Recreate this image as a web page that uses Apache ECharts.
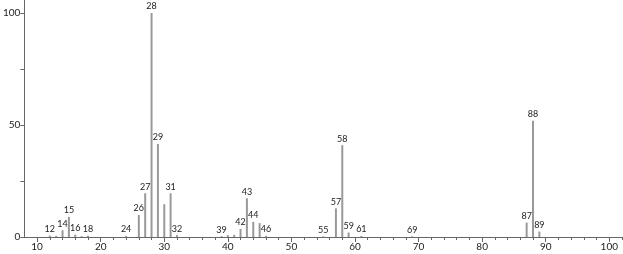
<!DOCTYPE html>
<html><head><meta charset="utf-8">
<script src="https://cdn.jsdelivr.net/npm/echarts@6/dist/echarts.min.js"></script>
<style>html,body{margin:0;padding:0;background:#fff}#c{width:623px;height:254px}</style>
</head><body><div id="c"></div>
<script>
const mz        = [12, 13, 14, 15, 16, 17, 18, 24, 26, 27, 28, 29, 30, 31, 32, 39, 40, 41, 42, 43, 44, 45, 46, 55, 57, 58, 59, 61, 69, 87, 88, 89];
const intensity = [0.6,0.5,3, 9, 1, 0.4,0.6,0.5,9.8,19.5,100,41.5,14.6,19.5,0.8,0.4,0.8,1, 3.6,17.3,6.8,6.2,0.5,0.3,12.8,41,2, 0.5,0.3,6.4,51.9,2.4];
const labeled   = [12, 14, 15, 16, 18, 24, 26, 27, 28, 29, 31, 32, 39, 42, 43, 44, 46, 55, 57, 58, 59, 61, 69, 87, 88, 89];
const xMajorTicks = [10, 20, 30, 40, 50, 60, 70, 80, 90, 100];
const xMinorTicks = [12,14,16,18,22,24,26,28,32,34,36,38,42,44,46,48,52,54,56,58,62,64,66,68,72,74,76,78,82,84,86,88,92,94,96,98,102];
const yLabels = [0, 50, 100];
const yTicks = [0, 25, 50, 75, 100];

const font = 'Lato, "DejaVu Sans", sans-serif';
const data = mz.map((m, i) => ({
  value: [m, intensity[i]],
  label: { show: labeled.includes(m) }
}));

const chart = echarts.init(document.getElementById('c'));
chart.setOption({
  animation: false,
  grid: { left: 24, right: 1, top: 0, bottom: 17 },
  xAxis: [{
    type: 'value', min: 8, max: 102,
    axisLine: { show: true, lineStyle: { color: '#666', width: 1 } },
    axisTick: { show: true, length: 5, lineStyle: { color: '#666' }, customValues: xMajorTicks },
    axisLabel: { show: true, customValues: xMajorTicks, color: '#222', fontSize: 10, fontFamily: font, margin: 5 },
    splitLine: { show: false }
  }, {
    type: 'value', min: 8, max: 102, position: 'bottom',
    axisLine: { show: false },
    axisTick: { show: true, length: 3, lineStyle: { color: '#666' }, customValues: xMinorTicks },
    axisLabel: { show: false },
    splitLine: { show: false }
  }],
  yAxis: {
    type: 'value', min: 0, max: 105.8,
    axisLine: { show: true, lineStyle: { color: '#666', width: 1 } },
    axisTick: { show: true, length: 4, lineStyle: { color: '#666' }, customValues: yTicks },
    axisLabel: { show: true, customValues: yLabels, color: '#222', fontSize: 10, fontFamily: font, margin: 4 },
    splitLine: { show: false }
  },
  series: [{
    type: 'bar',
    xAxisIndex: 0,
    barWidth: 2,
    itemStyle: { color: '#999' },
    label: {
      position: 'top', distance: 2, color: '#222', fontSize: 9, fontFamily: font,
      formatter: p => String(p.value[0])
    },
    data: data
  }]
});
</script></body></html>
